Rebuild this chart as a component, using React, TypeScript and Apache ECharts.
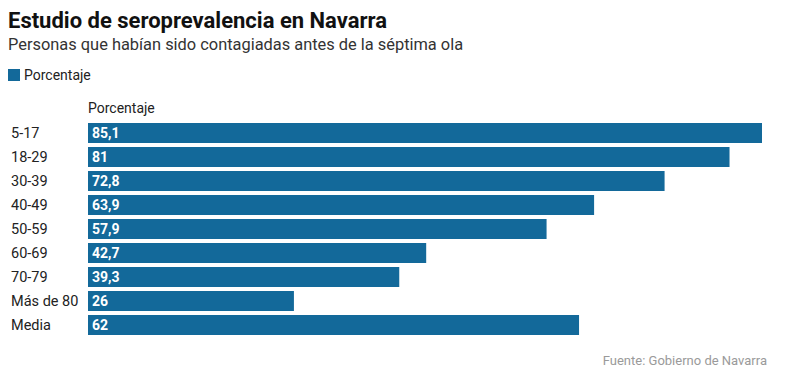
import React, { useEffect, useRef } from "react";
import * as echarts from "echarts";

const categories = ["5-17", "18-29", "30-39", "40-49", "50-59", "60-69", "70-79", "Más de 80", "Media"];
const values = [85.1, 81, 72.8, 63.9, 57.9, 42.7, 39.3, 26, 62];
const seriesName = "Porcentaje";
const titleText = "Estudio de seroprevalencia en Navarra";
const subtitleText = "Personas que habían sido contagiadas antes de la séptima ola";
const sourceText = "Fuente: Gobierno de Navarra";

const FONT = "Roboto, 'Liberation Sans', sans-serif";
const BAR = "#13699a";

export default function App() {
  const ref = useRef<HTMLDivElement>(null);
  useEffect(() => {
    if (!ref.current) return;
    const chart = echarts.init(ref.current, undefined, { renderer: "svg" });
    chart.setOption({
      animation: false,
      textStyle: { fontFamily: FONT },
      title: {
        text: titleText,
        subtext: subtitleText,
        left: 0,
        top: 1,
        padding: 0,
        itemGap: 5,
        textStyle: { fontSize: 22, fontWeight: "bold", color: "#111", fontFamily: FONT },
        subtextStyle: { fontSize: 16.4, color: "#333", fontFamily: FONT },
      },
      legend: {
        left: 0,
        top: 60,
        padding: 0,
        icon: "rect",
        itemWidth: 12,
        itemHeight: 12,
        itemGap: 4,
        textStyle: { fontSize: 14, color: "#222", fontFamily: FONT, padding: [0, 0, 0, -1] },
        data: [seriesName],
      },
      grid: { left: 77, right: 26, top: 113, height: 216 },
      xAxis: {
        type: "value",
        min: 0,
        max: 85.1,
        show: false,
      },
      yAxis: {
        type: "category",
        data: categories,
        inverse: true,
        name: seriesName,
        nameLocation: "start",
        nameGap: 6,
        nameTextStyle: { fontSize: 14, color: "#222", align: "left", padding: [0, 0, 0, 0] },
        axisLine: { show: false },
        axisTick: { show: false },
        axisLabel: {
          fontSize: 14.5,
          color: "#222",
          align: "left",
          margin: 77,
        },
      },
      series: [
        {
          name: seriesName,
          type: "bar",
          data: values,
          barWidth: 20,
          itemStyle: { color: BAR },
          label: {
            show: true,
            position: "insideLeft",
            distance: 4,
            color: "#fff",
            fontWeight: "bold",
            fontSize: 14,
            fontFamily: FONT,
            formatter: (p: any) => String(p.value).replace(".", ","),
          },
        },
      ],
      graphic: [
        {
          type: "text",
          right: 21,
          top: 346,
          style: { text: sourceText, fontSize: 13, fill: "#9a9a9a", fontFamily: FONT },
        },
      ],
    });
    return () => chart.dispose();
  }, []);
  return <div ref={ref} style={{ width: 780, height: 369 }} />;
}
